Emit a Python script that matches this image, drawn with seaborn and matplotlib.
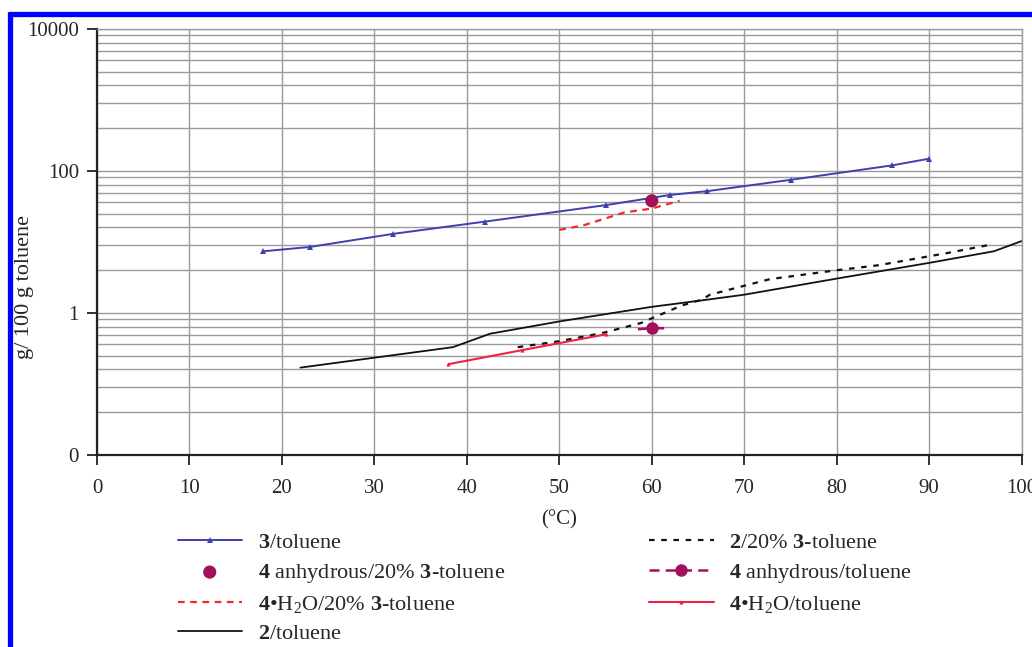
"""
Solubility curves in toluene (log scale), recreated with seaborn
"""
import matplotlib
matplotlib.use("Agg")
import matplotlib.pyplot as plt
import matplotlib.ticker as mticker
from matplotlib.lines import Line2D
import seaborn as sns

# Data
t_3_tol = [18, 23, 32, 42, 55, 62, 66, 75, 86, 90]
s_3_tol = [7.4, 8.5, 13.0, 19.4, 33, 46, 52, 75, 120, 149]

t_4anh_20 = [60]
s_4anh_20 = [38]

t_4h2o_20 = [50, 52.5, 57, 60, 63]
s_4h2o_20 = [14.8, 17, 26, 29.6, 38]

t_2_tol = [22, 38.5, 42.5, 50, 60, 66, 70, 80, 90, 97, 100]
s_2_tol = [0.17, 0.33, 0.51, 0.76, 1.22, 1.54, 1.81, 3.05, 5.08, 7.4, 10.3]

t_2_20 = [45.5, 50, 54.6, 58.8, 63.2, 65.4, 66.3, 69.8, 72.8, 80, 84.5, 92, 96.7]
s_2_20 = [0.33, 0.40, 0.52, 0.72, 1.27, 1.54, 1.81, 2.38, 3.0, 4.0, 4.7, 7.0, 9.2]

t_4anh_tol = [58.5, 60, 61.5]
s_4anh_tol = [0.59, 0.61, 0.61]

t_4h2o_tol = [38, 46, 55]
s_4h2o_tol = [0.19, 0.30, 0.50]

y_major = [0.01, 1, 100, 10000]
y_major_labels = ["0", "1", "100", "10000"]
x_ticks = list(range(0, 101, 10))

LBL = [
    r"$\mathbf{3}$/toluene",
    r"$\mathbf{4}$ anhydrous/20% $\mathbf{3}$-toluene",
    r"$\mathbf{4}$•H$_2$O/20% $\mathbf{3}$-toluene",
    r"$\mathbf{2}$/toluene",
    r"$\mathbf{2}$/20% $\mathbf{3}$-toluene",
    r"$\mathbf{4}$ anhydrous/toluene",
    r"$\mathbf{4}$•H$_2$O/toluene",
]


def main():
    sns.set_style("white")
    plt.rcParams["font.family"] = ["Liberation Serif", "DejaVu Serif"]
    plt.rcParams["mathtext.fontset"] = "custom"
    plt.rcParams["mathtext.rm"] = "Liberation Serif"
    plt.rcParams["mathtext.bf"] = "Liberation Serif:bold"
    plt.rcParams["mathtext.it"] = "Liberation Serif:italic"

    fig = plt.figure(figsize=(10.32, 6.47), dpi=100)
    ax = fig.add_axes([0.094, 0.2968, 0.896, 0.6584])

    sns.lineplot(x=t_3_tol, y=s_3_tol, ax=ax, color="#3f3fae", lw=1.4,
                 marker="^", markersize=4, markeredgewidth=0, label=LBL[0])
    sns.scatterplot(x=t_4anh_20, y=s_4anh_20, ax=ax, color="#a3115c", s=90,
                    edgecolor="none", label=LBL[1], zorder=5)
    sns.lineplot(x=t_4h2o_20, y=s_4h2o_20, ax=ax, color="#f02828", lw=1.6,
                 linestyle=(0, (3, 2.5)), label=LBL[2])
    sns.lineplot(x=t_2_tol, y=s_2_tol, ax=ax, color="#111111", lw=1.3,
                 label=LBL[3])
    sns.lineplot(x=t_2_20, y=s_2_20, ax=ax, color="#111111", lw=1.6,
                 linestyle=(0, (2.5, 3)), label=LBL[4])
    sns.lineplot(x=t_4anh_tol, y=s_4anh_tol, ax=ax, color="#a3115c", lw=1.8,
                 linestyle=(0, (4, 2.5)), marker="o", markersize=9,
                 markeredgewidth=0, markevery=[1], label=LBL[5])
    sns.lineplot(x=t_4h2o_tol, y=s_4h2o_tol, ax=ax, color="#ee2245", lw=1.5,
                 marker="^", markersize=3, markeredgewidth=0, label=LBL[6])

    ax.set_yscale("log")
    ax.set_xlim(0, 100)
    ax.set_ylim(0.01, 10000)
    ax.set_xticks(x_ticks)
    ax.set_xticklabels([str(t) for t in x_ticks])
    ax.yaxis.set_major_locator(mticker.FixedLocator(y_major))
    ax.yaxis.set_major_formatter(mticker.FixedFormatter(y_major_labels))
    minors = [k * k * d for d in (0.01, 1, 100) for k in range(2, 10)]
    ax.yaxis.set_minor_locator(mticker.FixedLocator(minors))
    ax.yaxis.set_minor_formatter(mticker.NullFormatter())

    ax.grid(True, which="both", axis="y", color="#9a9a9a", lw=1.0)
    ax.grid(True, which="major", axis="x", color="#9a9a9a", lw=1.0)
    ax.set_axisbelow(True)
    for s in ("top", "right"):
        ax.spines[s].set_color("#9a9a9a")
        ax.spines[s].set_linewidth(1.0)
    for s in ("left", "bottom"):
        ax.spines[s].set_color("#222222")
        ax.spines[s].set_linewidth(1.6)
    ax.tick_params(which="major", direction="out", length=7, width=1.3,
                   color="#222222", labelsize=15, left=True, bottom=True)
    ax.tick_params(axis="x", pad=10)
    ax.tick_params(axis="y", pad=6)
    ax.tick_params(which="minor", length=0)

    ax.set_ylabel("g/ 100 g toluene", fontsize=16)
    ax.yaxis.set_label_coords(-0.068, 0.395)
    ax.set_xlabel("(°C)", fontsize=15)
    ax.xaxis.set_label_coords(0.5, -0.13)

    handles, labels = ax.get_legend_handles_labels()
    order = [labels.index(l) for l in LBL]
    ax.legend([handles[i] for i in order], [labels[i] for i in order],
              ncol=2, loc="upper left", bbox_to_anchor=(0.172, 0.177),
              bbox_transform=fig.transFigure, frameon=False, fontsize=16,
              handlelength=2.9, handletextpad=0.7, columnspacing=6.5,
              labelspacing=0.4, borderpad=0, borderaxespad=0)

    # blue frame around the figure
    fig.add_artist(Line2D([7.5 / 1032, 1.0], [1 - 14.2 / 647] * 2,
                          color="#0000ff", lw=3.8, solid_capstyle="butt"))
    fig.add_artist(Line2D([9.7 / 1032] * 2, [0.0, 1 - 11.7 / 647],
                          color="#0000ff", lw=3.8, solid_capstyle="butt"))

    fig.savefig("out.png", dpi=100)


if __name__ == "__main__":
    main()
